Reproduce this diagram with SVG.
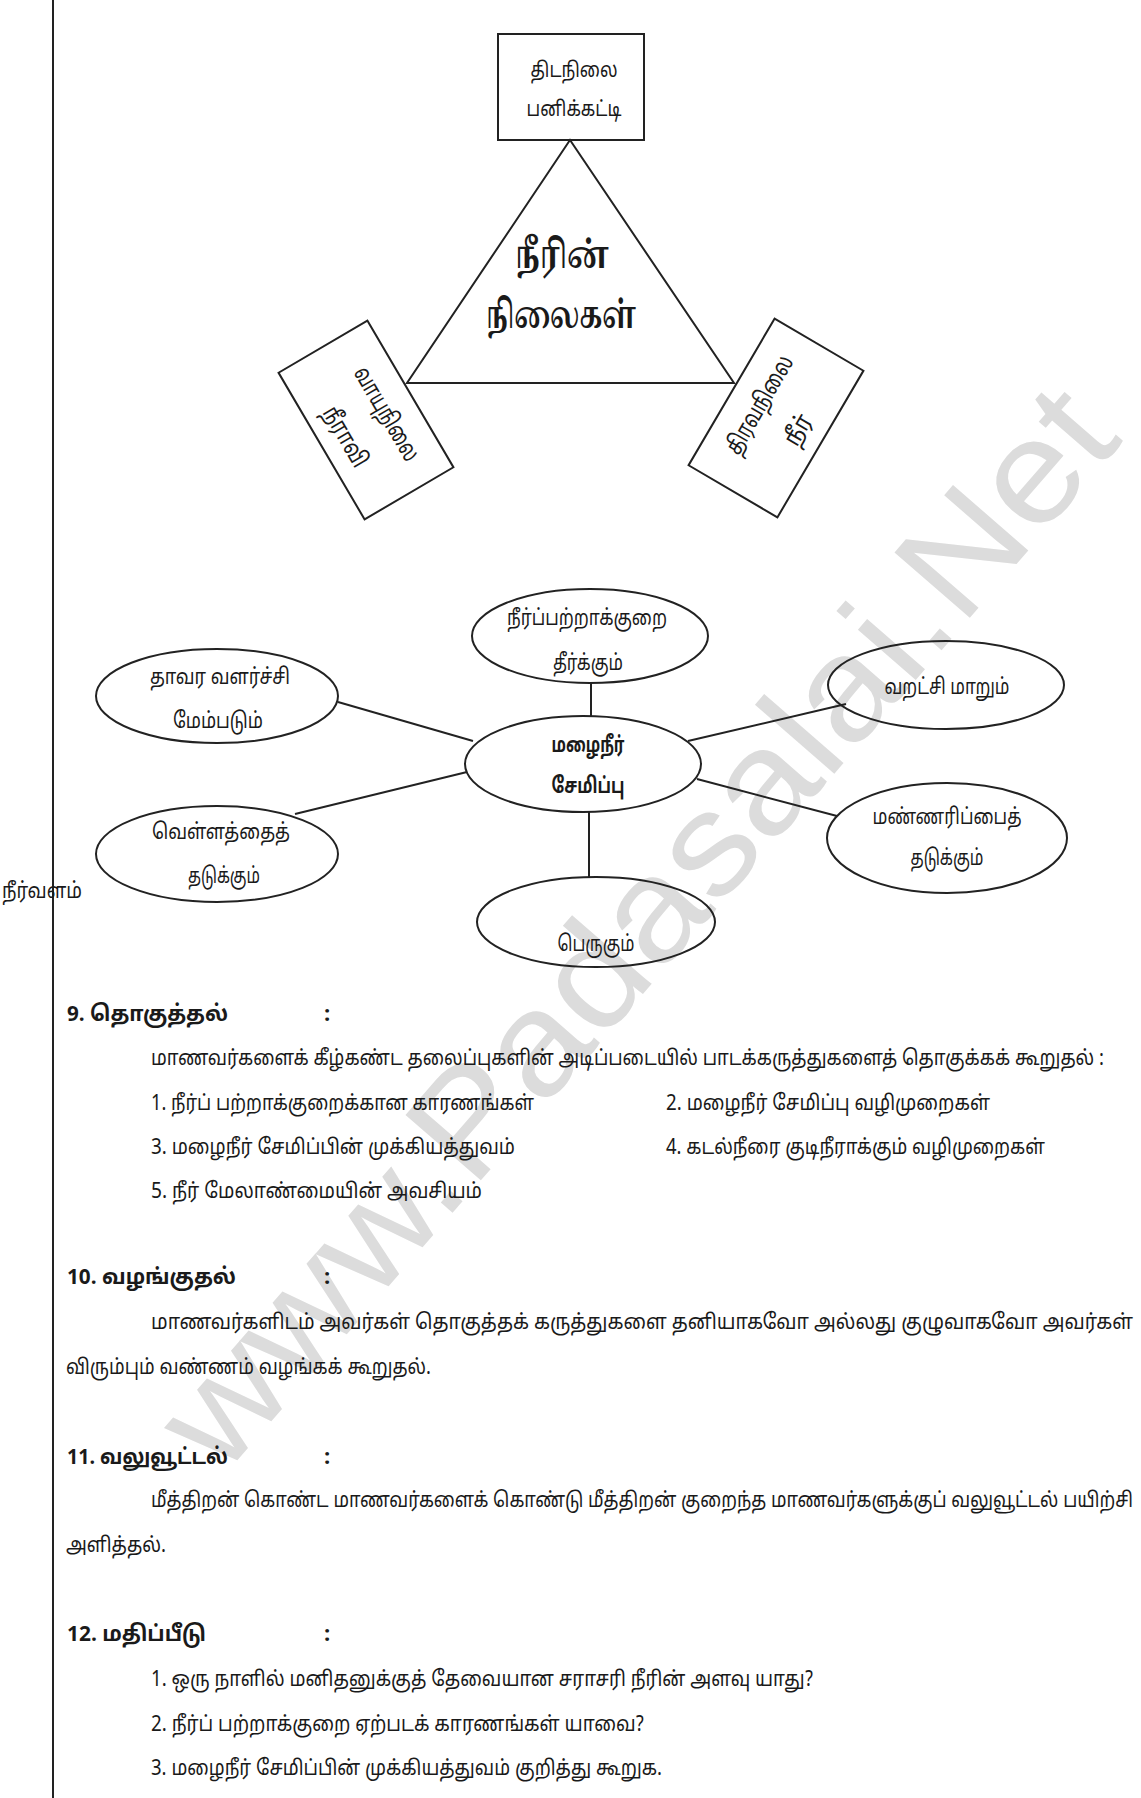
<svg xmlns="http://www.w3.org/2000/svg" width="1141" height="1798" viewBox="0 0 1141 1798">
<style>
text{font-family:"Noto Sans Tamil","Lohit Tamil","Noto Sans","DejaVu Sans",sans-serif;fill:#1a1a1a}
.n{font-size:21px}
.nr{font-size:24px}
.b{font-size:38px;font-weight:bold;font-family:"Noto Serif Tamil","Noto Sans Tamil","Lohit Tamil",serif}
.e{font-size:22px}
.eb{font-size:22px;font-weight:bold}
.h{font-size:22px;font-weight:bold}
.t{font-size:21px}
.shape{fill:none;stroke:#222;stroke-width:2}
.wm{font-family:"Liberation Sans",Arial,sans-serif;font-size:145px;fill:#dcdcdc}
</style>
<rect width="1141" height="1798" fill="#fff"/>
<text class="wm" transform="translate(222,1478) rotate(-49)" textLength="1375" lengthAdjust="spacingAndGlyphs">www.Padasalai.Net</text>
<line x1="53" y1="0" x2="53" y2="1798" stroke="#222" stroke-width="2"/>

<g id="node-solid">
<rect class="shape" x="498" y="34" width="146" height="106"/>
<text class="n" x="574" y="77" text-anchor="middle" textLength="87" lengthAdjust="spacingAndGlyphs">திடநிலை</text>
<text class="n" x="574" y="116" text-anchor="middle" textLength="95" lengthAdjust="spacingAndGlyphs">பனிக்கட்டி</text>
</g>
<g id="node-triangle">
<polygon class="shape" points="570,140 407,383 734,383"/>
<text class="b" x="562" y="268" text-anchor="middle" textLength="94" lengthAdjust="spacingAndGlyphs">நீரின்</text>
<text class="b" x="561" y="328" text-anchor="middle" textLength="150" lengthAdjust="spacingAndGlyphs">நிலைகள்</text>
</g>
<g id="node-gas" transform="translate(366,420) rotate(59.6)">
<rect class="shape" x="-85" y="-51.5" width="170" height="103"/>
<text class="nr" x="5" y="-13" text-anchor="middle" textLength="105" lengthAdjust="spacingAndGlyphs">வாயுநிலை</text>
<text class="nr" x="4" y="34" text-anchor="middle" textLength="66" lengthAdjust="spacingAndGlyphs">நீராவி</text>
</g>
<g id="node-liquid" transform="translate(776,418) rotate(-59.6)">
<rect class="shape" x="-85" y="-51.5" width="170" height="103"/>
<text class="nr" x="3" y="-13" text-anchor="middle" textLength="110" lengthAdjust="spacingAndGlyphs">திரவநிலை</text>
<text class="nr" x="1" y="33" text-anchor="middle" textLength="32" lengthAdjust="spacingAndGlyphs">நீர்</text>
</g>

<g id="connectors" stroke="#222" stroke-width="2" fill="none">
<line x1="338" y1="702" x2="473" y2="741"/>
<line x1="295" y1="814" x2="467" y2="772"/>
<line x1="688" y1="741" x2="846" y2="704"/>
<line x1="697" y1="779" x2="837" y2="816"/>
<line x1="591" y1="683" x2="591" y2="716"/>
<line x1="589" y1="812" x2="589" y2="877"/>
</g>

<g id="node-center">
<ellipse class="shape" cx="583" cy="764" rx="118" ry="48"/>
<text class="eb" x="588" y="752" text-anchor="middle" textLength="73" lengthAdjust="spacingAndGlyphs">மழைநீர்</text>
<text class="eb" x="588" y="793" text-anchor="middle" textLength="73" lengthAdjust="spacingAndGlyphs">சேமிப்பு</text>
</g>
<g id="node-shortage">
<ellipse class="shape" cx="590" cy="636" rx="118" ry="47"/>
<text class="e" x="587" y="625" text-anchor="middle" textLength="160" lengthAdjust="spacingAndGlyphs">நீர்ப்பற்றாக்குறை</text>
<text class="e" x="588" y="670" text-anchor="middle" textLength="70" lengthAdjust="spacingAndGlyphs">தீர்க்கும்</text>
</g>
<g id="node-plant">
<ellipse class="shape" cx="217" cy="696" rx="121" ry="47"/>
<text class="e" x="220" y="684" text-anchor="middle" textLength="140" lengthAdjust="spacingAndGlyphs">தாவர வளர்ச்சி</text>
<text class="e" x="218" y="728" text-anchor="middle" textLength="90" lengthAdjust="spacingAndGlyphs">மேம்படும்</text>
</g>
<g id="node-drought">
<ellipse class="shape" cx="946" cy="685" rx="118" ry="44"/>
<text class="e" x="947" y="694" text-anchor="middle" textLength="125" lengthAdjust="spacingAndGlyphs">வறட்சி மாறும்</text>
</g>
<g id="node-erosion">
<ellipse class="shape" cx="947" cy="838" rx="120" ry="55"/>
<text class="e" x="947" y="824" text-anchor="middle" textLength="149" lengthAdjust="spacingAndGlyphs">மண்ணரிப்பைத்</text>
<text class="e" x="947" y="865" text-anchor="middle" textLength="73" lengthAdjust="spacingAndGlyphs">தடுக்கும்</text>
</g>
<g id="node-flood">
<ellipse class="shape" cx="217" cy="854" rx="121" ry="48"/>
<text class="e" x="221" y="839" text-anchor="middle" textLength="138" lengthAdjust="spacingAndGlyphs">வெள்ளத்தைத்</text>
<text class="e" x="224" y="883" text-anchor="middle" textLength="72" lengthAdjust="spacingAndGlyphs">தடுக்கும்</text>
</g>
<g id="node-increase">
<ellipse class="shape" cx="596" cy="922" rx="119" ry="45"/>
<text class="e" x="596" y="951" text-anchor="middle" textLength="77" lengthAdjust="spacingAndGlyphs">பெருகும்</text>
</g>
<text class="e" x="2" y="898" textLength="80" lengthAdjust="spacingAndGlyphs">நீர்வளம்</text>

<g id="section-9">
<text class="h" x="67" y="1021" textLength="161" lengthAdjust="spacingAndGlyphs">9. தொகுத்தல்</text>
<text class="h" x="324" y="1021">:</text>
<text class="t" x="151" y="1065" textLength="953" lengthAdjust="spacingAndGlyphs">மாணவர்களைக் கீழ்கண்ட தலைப்புகளின் அடிப்படையில் பாடக்கருத்துகளைத் தொகுக்கக் கூறுதல் :</text>
<text class="t" x="151" y="1110" textLength="383" lengthAdjust="spacingAndGlyphs">1. நீர்ப் பற்றாக்குறைக்கான காரணங்கள்</text>
<text class="t" x="666" y="1110" textLength="324" lengthAdjust="spacingAndGlyphs">2. மழைநீர் சேமிப்பு வழிமுறைகள்</text>
<text class="t" x="151" y="1154" textLength="364" lengthAdjust="spacingAndGlyphs">3. மழைநீர் சேமிப்பின் முக்கியத்துவம்</text>
<text class="t" x="666" y="1154" textLength="379" lengthAdjust="spacingAndGlyphs">4. கடல்நீரை குடிநீராக்கும் வழிமுறைகள்</text>
<text class="t" x="151" y="1198" textLength="331" lengthAdjust="spacingAndGlyphs">5. நீர் மேலாண்மையின் அவசியம்</text>
</g>
<g id="section-10">
<text class="h" x="67" y="1284" textLength="169" lengthAdjust="spacingAndGlyphs">10. வழங்குதல்</text>
<text class="h" x="324" y="1284">:</text>
<text class="t" x="151" y="1329" textLength="982" lengthAdjust="spacingAndGlyphs">மாணவர்களிடம் அவர்கள் தொகுத்தக் கருத்துகளை தனியாகவோ அல்லது குழுவாகவோ அவர்கள்</text>
<text class="t" x="66" y="1374" textLength="365" lengthAdjust="spacingAndGlyphs">விரும்பும் வண்ணம் வழங்கக் கூறுதல்.</text>
</g>
<g id="section-11">
<text class="h" x="67" y="1464" textLength="161" lengthAdjust="spacingAndGlyphs">11. வலுவூட்டல்</text>
<text class="h" x="324" y="1464">:</text>
<text class="t" x="151" y="1507" textLength="982" lengthAdjust="spacingAndGlyphs">மீத்திறன் கொண்ட மாணவர்களைக் கொண்டு மீத்திறன் குறைந்த மாணவர்களுக்குப்  வலுவூட்டல் பயிற்சி</text>
<text class="t" x="66" y="1552" textLength="100" lengthAdjust="spacingAndGlyphs">அளித்தல்.</text>
</g>
<g id="section-12">
<text class="h" x="67" y="1641" textLength="139" lengthAdjust="spacingAndGlyphs">12. மதிப்பீடு</text>
<text class="h" x="324" y="1641">:</text>
<text class="t" x="151" y="1686" textLength="662" lengthAdjust="spacingAndGlyphs">1. ஒரு நாளில் மனிதனுக்குத் தேவையான சராசரி நீரின் அளவு யாது?</text>
<text class="t" x="151" y="1731" textLength="493" lengthAdjust="spacingAndGlyphs">2. நீர்ப் பற்றாக்குறை ஏற்படக் காரணங்கள் யாவை?</text>
<text class="t" x="151" y="1775" textLength="511" lengthAdjust="spacingAndGlyphs">3. மழைநீர் சேமிப்பின் முக்கியத்துவம் குறித்து கூறுக.</text>
</g>
</svg>
